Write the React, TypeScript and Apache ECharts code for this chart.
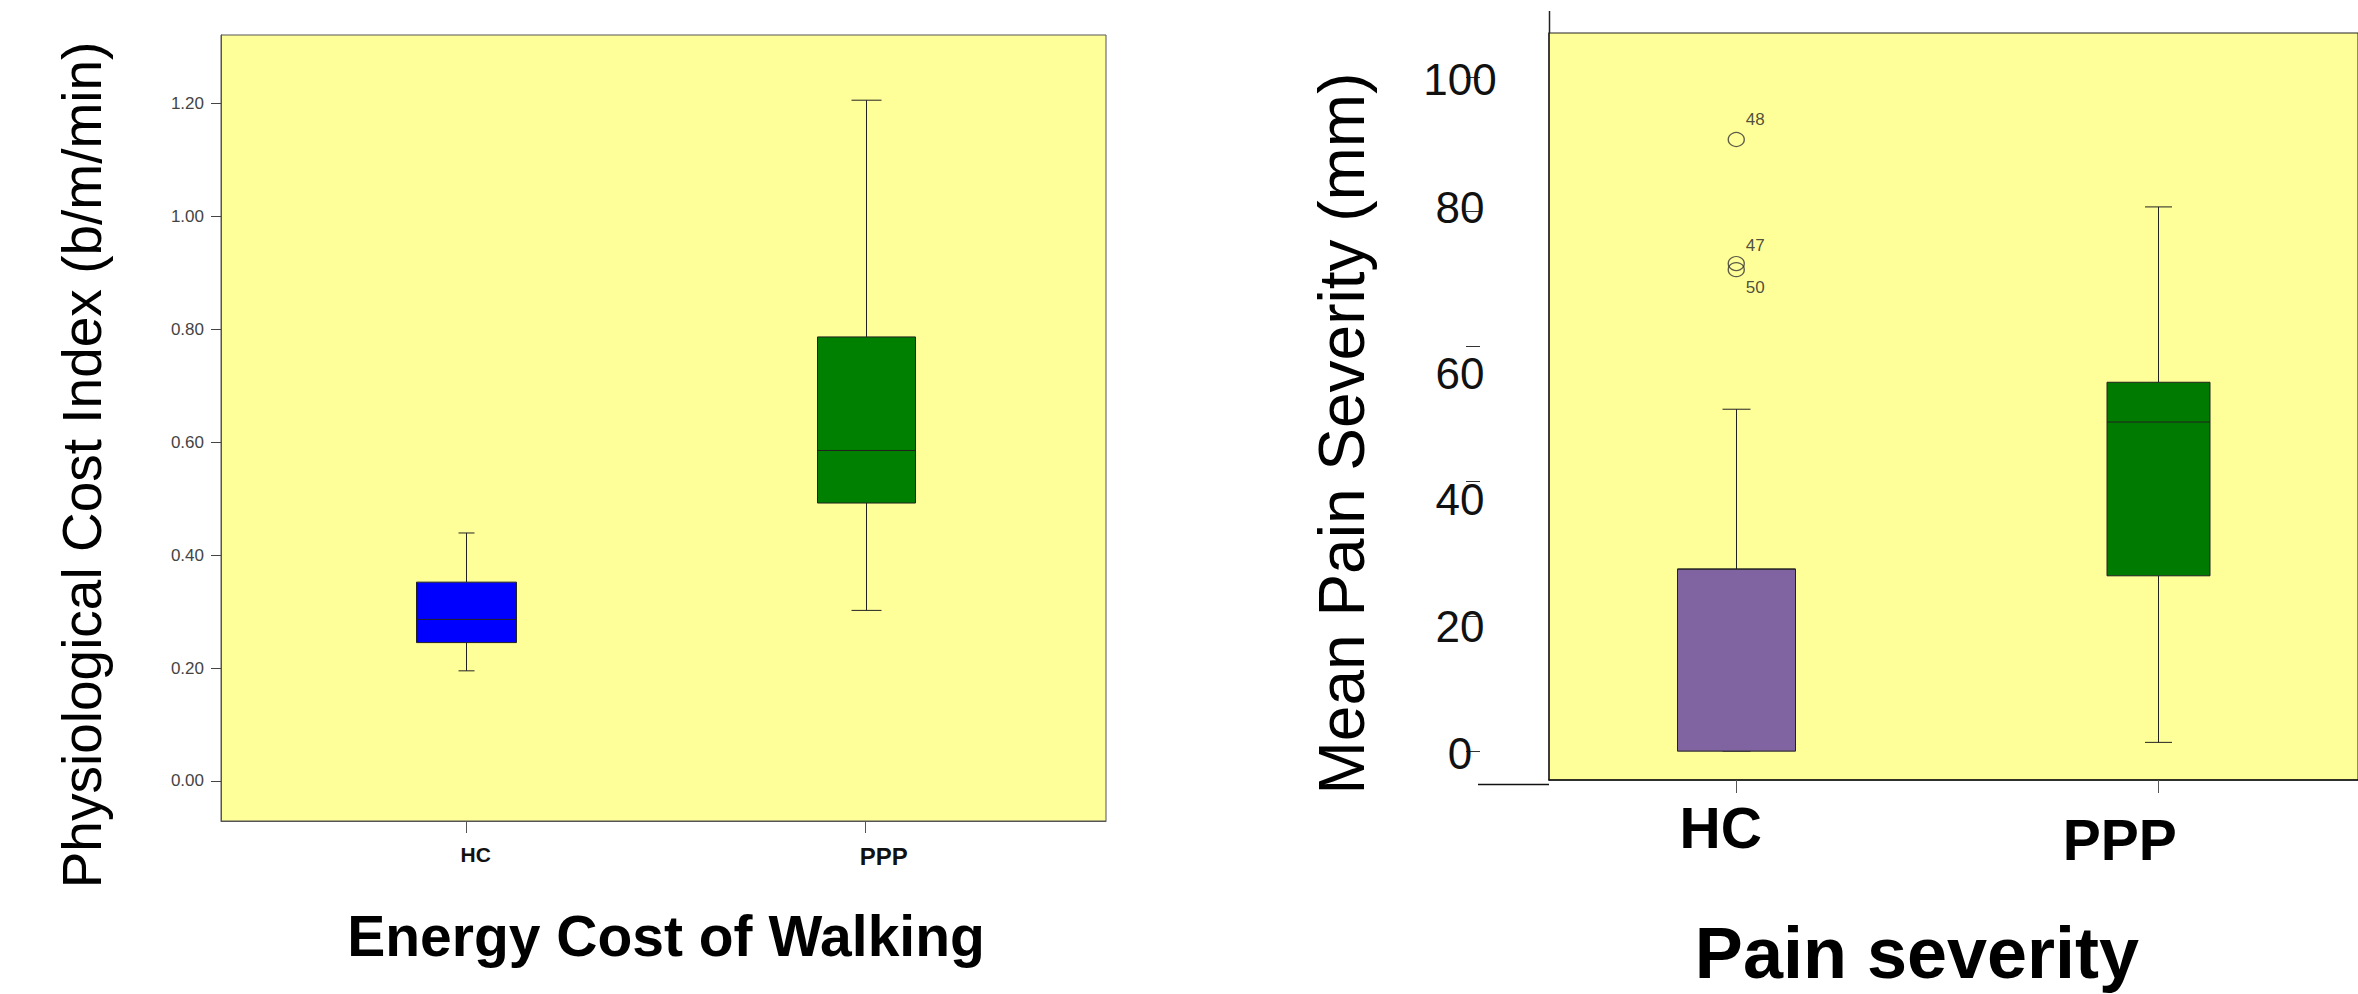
import React, { useEffect, useRef } from "react";
import * as echarts from "echarts";

// ---------- Left panel data: Energy Cost of Walking ----------
const leftCategories = ["HC", "PPP"];
const leftMin = [0.195, 0.302];
const leftQ1 = [0.245, 0.492];
const leftMedian = [0.286, 0.585];
const leftQ3 = [0.352, 0.786];
const leftMax = [0.439, 1.205];
const leftTicks = [0, 0.2, 0.4, 0.6, 0.8, 1.0, 1.2];

// ---------- Right panel data: Pain severity ----------
const rightCategories = ["HC", "PPP"];
const rightMin = [0, 1.3];
const rightQ1 = [0, 26.0];
const rightMedian = [27.0, 48.8];
const rightQ3 = [27.0, 54.7];
const rightMax = [50.7, 80.7];
const rightTicks = [0, 20, 40, 60, 80, 100];
const outlierIds = ["48", "47", "50"];
const outlierValues = [90.7, 72.3, 71.4];
const outlierGroup = [0, 0, 0];

// ---------- styles ----------
const leftColors = ["#0000FF", "#008000"];
const rightColors = ["#8064A2", "#007A00"];
const leftBoxWidths = [100, 98];
const leftCapWidths = [16, 30];
const rightBoxWidths = [118, 103];
const rightCapWidths = [28, 27];
const outlierLabelOffsets = [
  [19, -20],
  [19, -18],
  [19, 18],
];
const FONT = "'Liberation Sans', Arial, Helvetica, sans-serif";

function boxData(mins: number[], q1: number[], med: number[], q3: number[], max: number[]) {
  return mins.map((m, i) => [i + 1, m, q1[i], med[i], q3[i], max[i]]);
}

function makeRenderItem(colors: string[], boxWidths: number[], capWidths: number[]) {
  return (params: any, api: any) => {
    const x = api.value(0);
    const lo = api.coord([x, api.value(1)]);
    const q1 = api.coord([x, api.value(2)]);
    const md = api.coord([x, api.value(3)]);
    const q3 = api.coord([x, api.value(4)]);
    const hi = api.coord([x, api.value(5)]);
    const i = params.dataIndex;
    const bw = boxWidths[i];
    const cw = capWidths[i];
    const cx = Math.round(q1[0]) + 0.5;
    const ls = { stroke: "#222", lineWidth: 1 };
    return {
      type: "group",
      children: [
        { type: "line", shape: { x1: cx, y1: hi[1], x2: cx, y2: q3[1] }, style: ls },
        { type: "line", shape: { x1: cx, y1: q1[1], x2: cx, y2: lo[1] }, style: ls },
        { type: "line", shape: { x1: cx - cw / 2, y1: hi[1], x2: cx + cw / 2, y2: hi[1] }, style: ls },
        { type: "line", shape: { x1: cx - cw / 2, y1: lo[1], x2: cx + cw / 2, y2: lo[1] }, style: ls },
        {
          type: "rect",
          shape: { x: cx - bw / 2, y: q3[1], width: bw, height: q1[1] - q3[1] },
          style: { fill: colors[i], stroke: "#222", lineWidth: 1 },
        },
        { type: "line", shape: { x1: cx - bw / 2, y1: md[1], x2: cx + bw / 2, y2: md[1] }, style: ls },
      ],
    };
  };
}

const rightTickShift: Record<number, number[]> = {
  0: [4, 0, 0, 0],
  20: [21, 0, 0, 0],
  40: [36, 0, 0, 0],
  60: [54, 0, 0, 0],
  80: [0, 0, 9, 0],
  100: [6, 0, 0, 0],
};

export default function App() {
  const ref = useRef<HTMLDivElement>(null);
  useEffect(() => {
    if (!ref.current) return;
    const chart = echarts.init(ref.current, null, { renderer: "svg" });

    const rightYRich: any = {};
    rightTicks.forEach((t) => {
      rightYRich["t" + t] = { fontSize: 44, color: "#111", fontFamily: FONT, padding: rightTickShift[t] };
    });

    const option: any = {
      animation: false,
      backgroundColor: "#ffffff",
      textStyle: { fontFamily: FONT },
      grid: [
        {
          left: 221, top: 35, width: 885, height: 786,
          show: true, backgroundColor: "#FFFF99", borderColor: "#555", borderWidth: 1,
        },
        {
          left: 1549, top: 33, width: 812, height: 751,
          show: true, backgroundColor: "#FFFF99", borderColor: "#222", borderWidth: 1,
        },
      ],
      xAxis: [
        {
          type: "value", gridIndex: 0, min: 0.3861, max: 2.6014,
          splitLine: { show: false },
          axisLine: { show: true, onZero: false, lineStyle: { color: "#555" } },
          axisTick: { show: true, customValues: [1, 2], length: 12, lineStyle: { color: "#555" } },
          axisLabel: {
            customValues: [1, 2], margin: 23,
            formatter: (v: number) => {
              const i = Math.round(v) - 1;
              return `{c${i}|${leftCategories[i]}}`;
            },
            rich: {
              c0: { fontSize: 21, fontWeight: "bold", color: "#111", fontFamily: FONT, padding: [0, 0, 0, 19] },
              c1: { fontSize: 24, fontWeight: "bold", color: "#111", fontFamily: FONT, padding: [0, 0, 0, 36] },
            },
          },
          name: "Energy Cost of Walking",
          nameLocation: "middle",
          nameGap: 86,
          nameTextStyle: { fontSize: 57, fontWeight: "bold", color: "#000", fontFamily: FONT, padding: [0, 0, 0, 5] },
        },
        {
          type: "value", gridIndex: 1, min: 0.5557, max: 2.4751,
          splitLine: { show: false },
          axisLine: { show: true, onZero: false, lineStyle: { color: "#111", width: 1.5 } },
          axisTick: { show: true, customValues: [1, 2], length: 13, lineStyle: { color: "#555" } },
          axisLabel: {
            customValues: [1, 2], margin: 19,
            formatter: (v: number) => {
              const i = Math.round(v) - 1;
              return `{c${i}|${rightCategories[i]}}`;
            },
            rich: {
              c0: { fontSize: 57, fontWeight: "bold", color: "#000", fontFamily: FONT, padding: [0, 31, 0, 0] },
              c1: { fontSize: 57, fontWeight: "bold", color: "#000", fontFamily: FONT, padding: [12, 76, 0, 0] },
            },
          },
          name: "Pain severity",
          nameLocation: "middle",
          nameGap: 137,
          nameTextStyle: { fontSize: 72, fontWeight: "bold", color: "#000", fontFamily: FONT, padding: [0, 73, 0, 0] },
        },
      ],
      yAxis: [
        {
          type: "value", gridIndex: 0, min: -0.0708, max: 1.3204,
          splitLine: { show: false },
          axisLine: { show: true, onZero: false, lineStyle: { color: "#555" } },
          axisTick: { show: true, customValues: leftTicks, length: 10, lineStyle: { color: "#444" } },
          axisLabel: {
            customValues: leftTicks, margin: 17, fontSize: 17, color: "#444",
            formatter: (v: number) => v.toFixed(2),
          },
          name: "Physiological Cost Index (b/m/min)",
          nameLocation: "middle",
          nameRotate: 90,
          nameGap: 112,
          nameTextStyle: { fontSize: 55, color: "#000", fontFamily: FONT, padding: [0, 74, 0, 0] },
        },
        {
          type: "value", gridIndex: 1, min: -4.28, max: 106.49,
          splitLine: { show: false },
          axisLine: { show: true, onZero: false, lineStyle: { color: "#222", width: 1.5 } },
          axisTick: { show: false },
          axisLabel: {
            customValues: rightTicks, margin: 89, align: "center",
            formatter: (v: number) => `{t${v}|${v}}`,
            rich: rightYRich,
          },
          name: "Mean Pain Severity (mm)",
          nameLocation: "middle",
          nameRotate: 90,
          nameGap: 175,
          nameTextStyle: { fontSize: 64, color: "#000", fontFamily: FONT, padding: [0, 54, 0, 0] },
        },
        {
          type: "value", gridIndex: 1, min: -4.28, max: 106.49, position: "left", offset: 69,
          splitLine: { show: false },
          axisLine: { show: false, onZero: false },
          axisTick: { show: true, customValues: rightTicks, length: 14, lineStyle: { color: "#333" } },
          axisLabel: { show: false },
        },
      ],
      series: [
        {
          type: "custom",
          name: "Energy cost",
          xAxisIndex: 0, yAxisIndex: 0,
          encode: { x: 0, y: [1, 2, 3, 4, 5] },
          data: boxData(leftMin, leftQ1, leftMedian, leftQ3, leftMax),
          renderItem: makeRenderItem(leftColors, leftBoxWidths, leftCapWidths),
        },
        {
          type: "custom",
          name: "Pain severity",
          xAxisIndex: 1, yAxisIndex: 1,
          encode: { x: 0, y: [1, 2, 3, 4, 5] },
          data: boxData(rightMin, rightQ1, rightMedian, rightQ3, rightMax),
          renderItem: makeRenderItem(rightColors, rightBoxWidths, rightCapWidths),
        },
        {
          type: "scatter",
          name: "Outliers",
          xAxisIndex: 1, yAxisIndex: 1,
          symbol: "circle",
          symbolSize: [16, 14],
          itemStyle: { color: "rgba(0,0,0,0)", borderColor: "#333", borderWidth: 1.3 },
          data: outlierValues.map((v, i) => ({
            value: [outlierGroup[i] + 1, v],
            name: outlierIds[i],
            label: {
              show: true,
              position: "inside",
              offset: outlierLabelOffsets[i],
              formatter: outlierIds[i],
              fontSize: 17,
              color: "#222",
              fontFamily: FONT,
            },
          })),
        },
      ],
      graphic: [
        {
          type: "line",
          shape: { x1: 1478, y1: 784.5, x2: 1549, y2: 784.5 },
          style: { stroke: "#111", lineWidth: 1.5 },
        },
        {
          type: "line",
          shape: { x1: 1549.5, y1: 11, x2: 1549.5, y2: 33 },
          style: { stroke: "#222", lineWidth: 1.5 },
        },
      ],
    };
    chart.setOption(option);
    return () => chart.dispose();
  }, []);
  return (
    <div
      ref={ref}
      style={{ position: "fixed", left: 0, top: 0, width: 2358, height: 994, background: "#fff" }}
    />
  );
}
